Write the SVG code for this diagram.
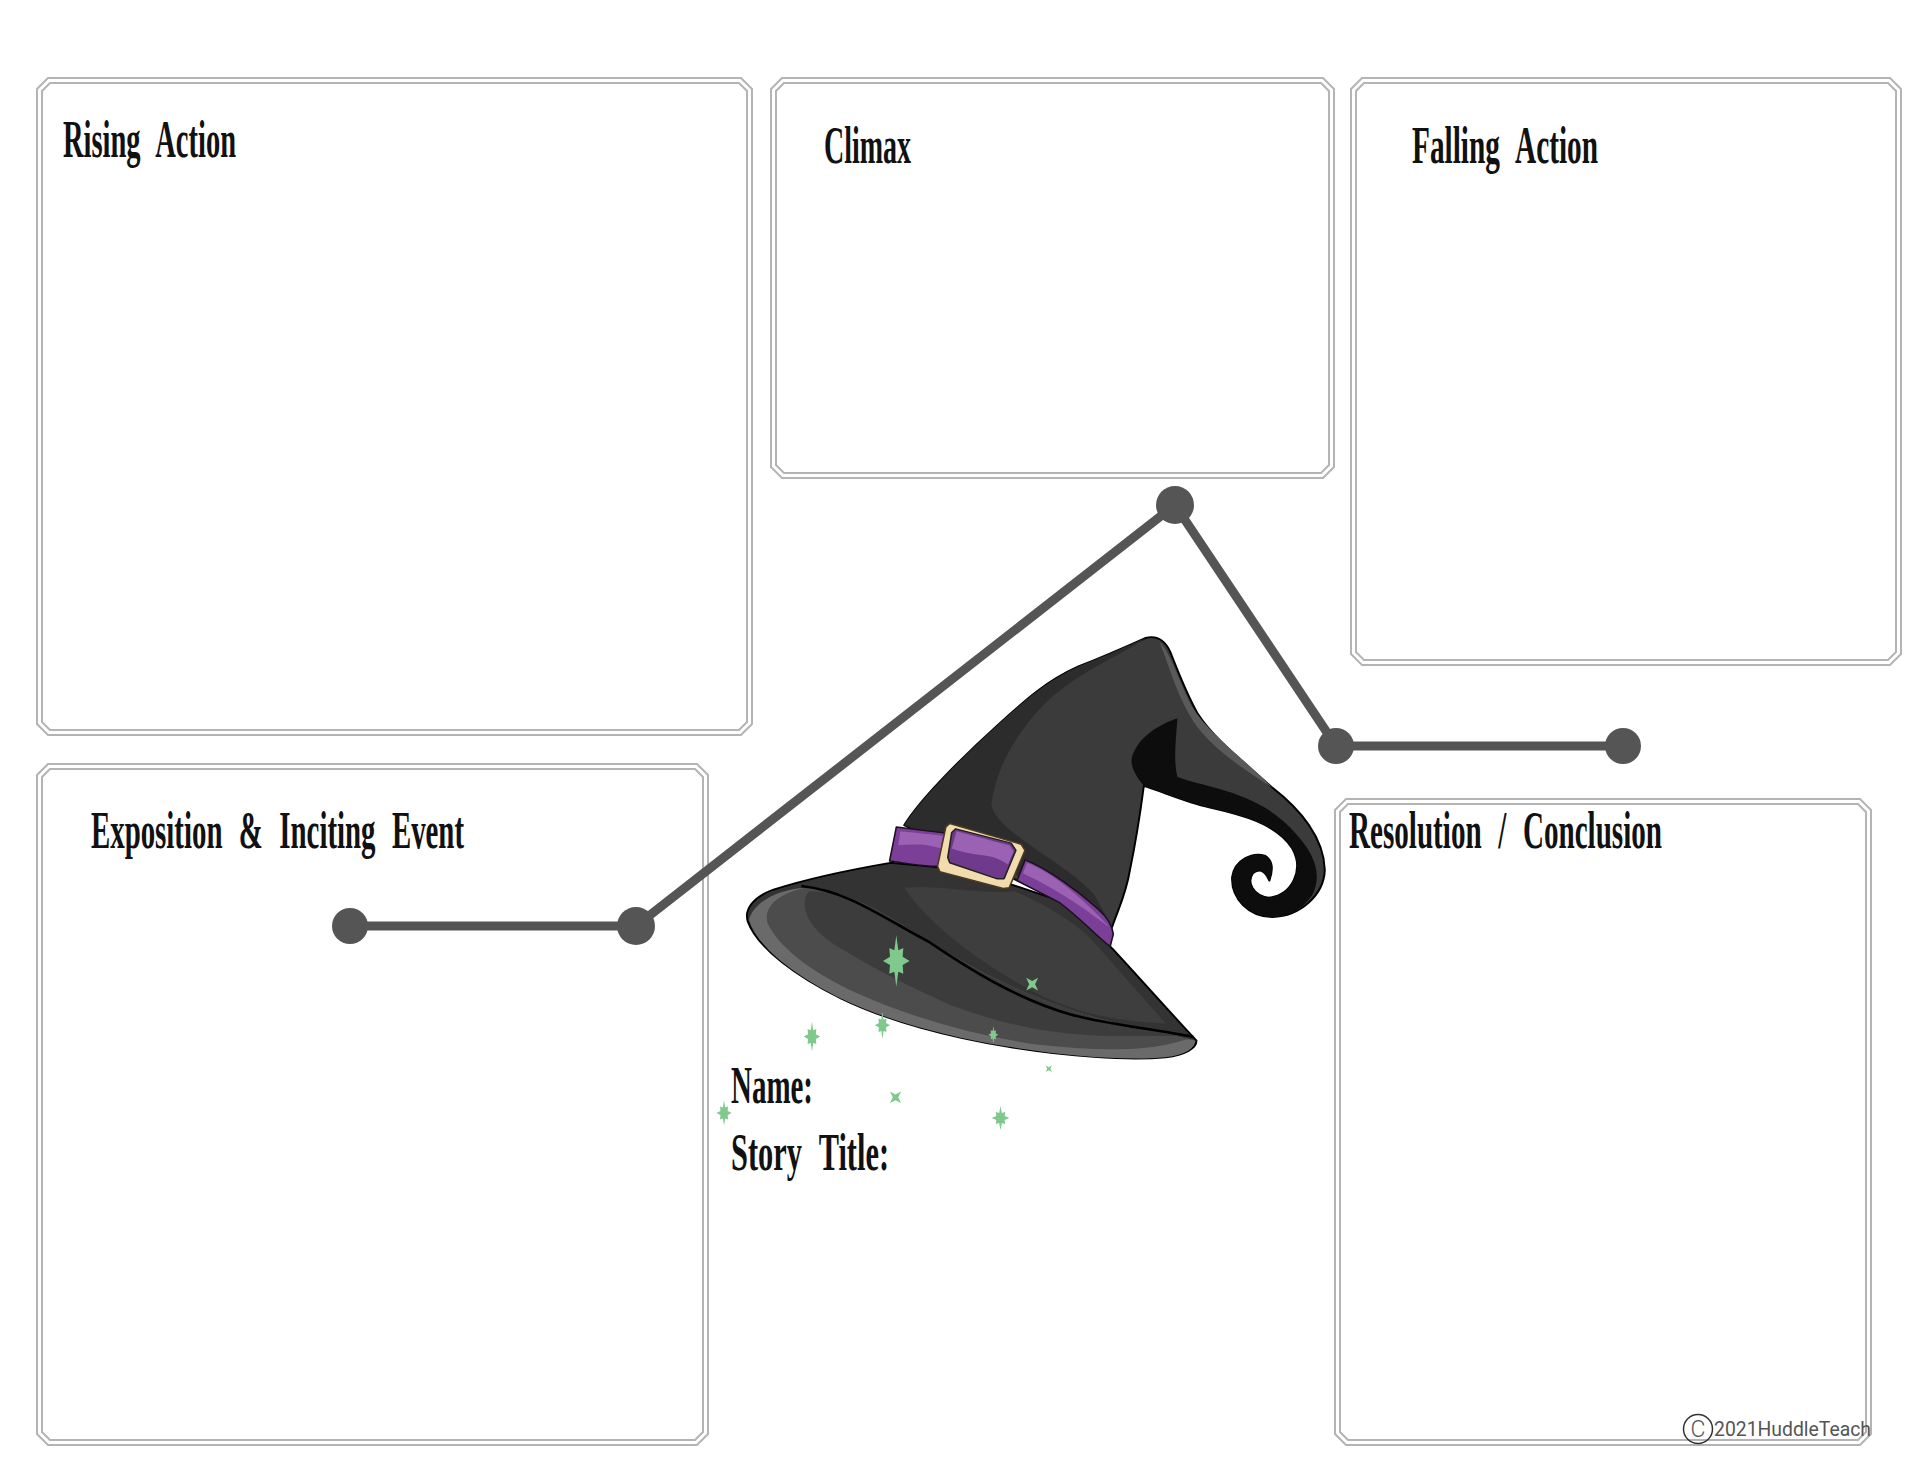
<svg xmlns="http://www.w3.org/2000/svg" xmlns:xlink="http://www.w3.org/1999/xlink" width="1920" height="1483" viewBox="0 0 1920 1483">
<style>
.o{fill:#fff;stroke:#b4b4b4;stroke-width:2}
.i{fill:#fff;stroke:#b4b4b4;stroke-width:2}
.t{font-family:"Liberation Serif",serif;font-weight:700;font-size:52px;fill:#111;word-spacing:.32em}
.c{fill:none;stroke:#555;stroke-width:9}
.d{fill:#555}
.s{fill:#7fc98c}
.cr{font-family:Roboto,"Liberation Sans",sans-serif;fill:#555}
</style>
<defs>
<path id="star" d="M0-1L.12-.42L.42-.5L.38-.16L.8 0L.38.16L.42.5L.12.42L0 1L-.12.42L-.42.5L-.38.16L-.8 0L-.38-.16L-.42-.5L-.12-.42Z"/>
<path id="cross" d="M-1-1L0-.5L1-1L.5 0L1 1L0 .5L-1 1L-.5 0Z"/>
</defs>
<rect width="1920" height="1483" fill="#fff"/>
<g id="rising-action">
<path class="o" d="M48 78H741L752 89V724L741 735H48L37 724V89Z"/>
<path class="i" d="M50 83H739L747 91V722L739 730H50L42 722V91Z"/>
<text class="t" x="63" y="157" textLength="173" lengthAdjust="spacingAndGlyphs">Rising Action</text>
</g>
<g id="climax">
<path class="o" d="M782 78H1323L1334 89V467L1323 478H782L771 467V89Z"/>
<path class="i" d="M784 83H1321L1329 91V465L1321 473H784L776 465V91Z"/>
<text class="t" x="824" y="163" textLength="87" lengthAdjust="spacingAndGlyphs">Climax</text>
</g>
<g id="falling-action">
<path class="o" d="M1362 78H1890L1901 89V654L1890 665H1362L1351 654V89Z"/>
<path class="i" d="M1364 83H1888L1896 91V652L1888 660H1364L1356 652V91Z"/>
<text class="t" x="1412" y="163" textLength="186" lengthAdjust="spacingAndGlyphs">Falling Action</text>
</g>
<g id="exposition">
<path class="o" d="M48 764H697L708 775V1434L697 1445H48L37 1434V775Z"/>
<path class="i" d="M50 769H695L703 777V1432L695 1440H50L42 1432V777Z"/>
<text class="t" x="91" y="848" textLength="373" lengthAdjust="spacingAndGlyphs">Exposition &amp; Inciting Event</text>
</g>
<g id="resolution">
<path class="o" d="M1346 799H1860L1871 810V1434L1860 1445H1346L1335 1434V810Z"/>
<path class="i" d="M1348 804H1858L1866 812V1432L1858 1440H1348L1340 1432V812Z"/>
<text class="t" x="1349" y="848" textLength="313" lengthAdjust="spacingAndGlyphs">Resolution / Conclusion</text>
</g>
<g id="connectors">
<path class="c" d="M350 926H636L1175 505L1336 746H1623"/>
<circle class="d" cx="350" cy="926" r="18"/>
<circle class="d" cx="636" cy="926" r="19"/>
<circle class="d" cx="1175" cy="505" r="19"/>
<circle class="d" cx="1336" cy="746" r="18"/>
<circle class="d" cx="1623" cy="746" r="18"/>
</g>
<g id="hat" transform="translate(730 620) scale(.396 .357)" stroke-linejoin="round">
<path fill="#3b3b3b" stroke="#000" stroke-width="5" d="M440 575C480 500 600 370 680 290C750 220 800 170 880 130C950 100 1010 70 1050 50C1080 42 1100 60 1112 90C1130 140 1150 200 1180 260C1220 330 1290 390 1370 470C1440 530 1500 610 1502 700C1500 770 1440 830 1370 832C1310 832 1265 780 1268 720C1275 670 1320 650 1350 660C1375 675 1370 705 1362 730C1350 700 1335 695 1320 710C1305 735 1320 770 1360 778C1420 770 1450 700 1420 640C1380 570 1290 545 1210 525C1150 510 1090 480 1045 465C1035 550 1025 620 1010 700C1000 770 980 810 965 860Z"/>
<path fill="#2c2c2c" d="M440 575C480 500 600 370 680 290C750 220 800 170 880 130C950 100 1010 70 1050 50C1000 95 880 140 790 240C720 320 670 420 660 520C680 600 850 680 920 770L965 860L600 640Z"/>
<path fill="#5a5a5a" d="M1085 62C1112 90 1130 160 1165 240C1210 320 1300 390 1370 470C1300 420 1230 370 1180 300C1130 220 1110 130 1085 62Z"/>
<path fill="#0d0d0d" d="M1130 275C1125 340 1120 400 1130 440C1200 470 1340 480 1430 600C1480 660 1495 720 1470 770C1440 820 1400 832 1370 832C1310 832 1265 780 1268 720C1275 670 1320 650 1350 660C1375 675 1370 705 1362 730C1350 700 1335 695 1320 710C1305 735 1320 770 1360 778C1420 770 1450 700 1420 640C1380 570 1290 545 1210 525C1150 510 1090 480 1045 465C1020 430 1005 400 1020 370C1040 320 1090 290 1130 275Z"/>
<path fill="#333" stroke="#000" stroke-width="5" d="M405 680C300 700 180 730 110 755C60 775 35 810 45 845C70 920 170 1000 280 1060C400 1125 560 1170 700 1195C850 1222 1000 1235 1100 1225C1150 1218 1178 1200 1178 1178C1120 1110 1040 1010 965 920L870 800L600 700Z"/>
<path fill="#6a6a6a" d="M190 750C120 755 60 790 48 840C70 920 170 1000 280 1060C400 1125 560 1170 700 1195C850 1222 1000 1235 1100 1225C1150 1218 1175 1200 1175 1178L1000 1135C800 1085 650 1000 500 900C350 790 280 760 190 750Z"/>
<path fill="#4c4c4c" d="M190 750C110 770 85 810 95 850C130 930 230 1000 330 1050C450 1110 620 1165 780 1190C900 1205 1040 1210 1120 1185C1150 1175 1165 1170 1175 1178L1000 1135C800 1085 650 1000 500 900C350 790 280 760 190 750Z"/>
<path fill="#3c3c3c" d="M200 760C170 800 200 870 280 920C360 975 460 1030 560 1080C680 1130 820 1165 960 1165C1040 1165 1100 1165 1150 1165L1000 1135C800 1085 650 1000 500 900C350 790 280 760 200 760Z"/>
<path fill="none" stroke="#000" stroke-width="7" d="M180 745C300 760 380 830 500 900C600 975 720 1060 860 1105C960 1135 1070 1145 1170 1168"/>
<path fill="#3e3e3e" d="M440 750C520 740 640 770 720 760C800 800 880 850 925 910L1100 1130C960 1125 840 1090 740 1025C620 950 500 850 440 750Z"/>
<path fill="#7b3f98" stroke="#1a1020" stroke-width="4" d="M420 580L545 597L525 690C480 690 440 680 403 675Z"/>
<path fill="#9b62b3" d="M430 592L538 604L532 640C490 625 460 630 425 630Z"/>
<path fill="#7b3f98" stroke="#1a1020" stroke-width="4" d="M745 672C800 695 880 760 930 810C950 830 965 850 968 880L960 915C920 880 880 830 830 790L725 730Z"/>
<path fill="#9b62b3" d="M750 680C820 710 900 790 958 860C920 830 840 760 740 710Z"/>
<path fill="#f2dcae" stroke="#4a3a20" stroke-width="4" d="M555 570L735 628L745 645L705 750L690 752L530 705L524 690L545 580Z"/>
<path fill="#6f3a8c" stroke="#222" stroke-width="4" d="M570 585L710 625L722 645L692 725L675 725L555 680L550 665L560 595Z"/>
<path fill="#9b62b3" d="M572 592L706 632L716 648L702 685C660 650 620 665 560 640Z"/>
<g class="s">
<use xlink:href="#star" href="#star" transform="translate(420 955) scale(42 72)"/>
<use xlink:href="#cross" href="#cross" transform="translate(763 1020) scale(15 18)"/>
<use xlink:href="#star" href="#star" transform="translate(665 1162) scale(16 25)"/>
<use xlink:href="#star" href="#star" transform="translate(385 1135) scale(24 38)"/>
<use xlink:href="#star" href="#star" transform="translate(207 1167) scale(26 42)"/>
<use xlink:href="#cross" href="#cross" transform="translate(805 1257) scale(8 9)"/>
<use xlink:href="#cross" href="#cross" transform="translate(418 1337) scale(14 16)"/>
<use xlink:href="#star" href="#star" transform="translate(683 1395) scale(28 34)"/>
<use xlink:href="#star" href="#star" transform="translate(-15 1381) scale(24 36)"/>
</g>
</g>
<g id="name-fields">
<text class="t" x="731" y="1103" textLength="82" lengthAdjust="spacingAndGlyphs">Name:</text>
<text class="t" x="731" y="1170" textLength="158" lengthAdjust="spacingAndGlyphs">Story Title:</text>
</g>
<g id="copyright">
<circle cx="1698" cy="1429" r="14.5" fill="none" stroke="#333" stroke-width="1.5"/>
<text class="cr" x="1698" y="1437" font-size="23" font-weight="300" text-anchor="middle">C</text>
<text class="cr" x="1714" y="1436" font-size="20" textLength="157" lengthAdjust="spacingAndGlyphs">2021HuddleTeach</text>
</g>
</svg>
